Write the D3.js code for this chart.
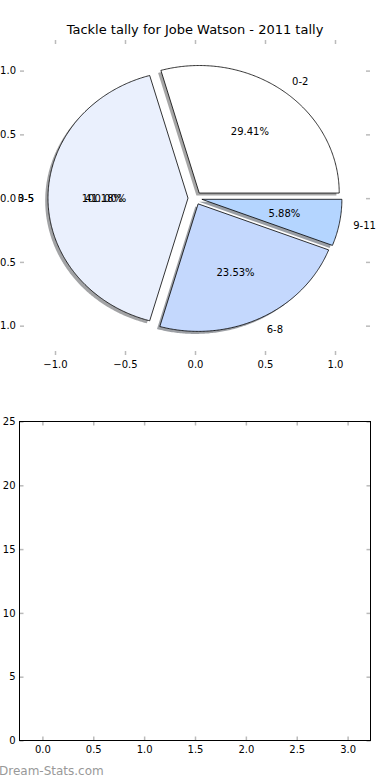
<!DOCTYPE html>
<meta charset="utf-8">
<style>

body {
  margin: 0;
  background: #fff;
  font-family: "DejaVu Sans", sans-serif;
}

.tick line {
  stroke: #bbb;
  stroke-width: 1.5;
}

.tick text {
  font: 10px "DejaVu Sans", sans-serif;
  fill: #000;
}

.wedge {
  stroke: #000;
  stroke-width: 0.8;
}

.plabel {
  font: 10px "DejaVu Sans", sans-serif;
}

</style>
<body>
<script src="https://d3js.org/d3.v7.min.js"></script>
<script>

// pie data
var categories = ["0-2", "3-5", "6-8", "9-11"];
var tackles = [5, 7, 4, 1];
var colours = ["#ffffff", "#eaf0fd", "#c4d8fd", "#b4d5ff"];

// a second single-slice pie drawn over the first (only its texts show)
var overlayCategories = ["0-5"];
var overlayValues = [1];

var pieTicks = [-1.0, -0.5, 0.0, 0.5, 1.0];
var barYTicks = [0, 5, 10, 15, 20, 25];
var barXTicks = [0.0, 0.5, 1.0, 1.5, 2.0, 2.5, 3.0];

var title = "Tackle tally for Jobe Watson - 2011 tally";
var explode = 0.05;

var svg = d3.select("body").append("svg")
    .attr("width", 390)
    .attr("height", 780);

// ---- pie axes ----
var x = d3.scaleLinear().domain([-1.25, 1.25]).range([20, 370]);
var y = d3.scaleLinear().domain([-1.23, 1.24]).range([355, 40]);

var fmt = d3.format(".1f");

svg.append("g")
    .attr("transform", "translate(0,355)")
    .call(d3.axisBottom(x).tickValues(pieTicks).tickFormat(fmt).tickSize(-4).tickPadding(6))
    .call(function(g) { g.select(".domain").remove(); });

svg.append("g")
    .attr("transform", "translate(0,40)")
    .call(d3.axisTop(x).tickValues(pieTicks).tickFormat("").tickSize(-4))
    .call(function(g) { g.select(".domain").remove(); });

svg.append("g")
    .attr("transform", "translate(20,0)")
    .call(d3.axisLeft(y).tickValues(pieTicks).tickFormat(fmt).tickSize(-4).tickPadding(4))
    .call(function(g) { g.select(".domain").remove(); });

svg.append("g")
    .attr("transform", "translate(370,0)")
    .call(d3.axisRight(y).tickValues(pieTicks).tickFormat("").tickSize(-4))
    .call(function(g) { g.select(".domain").remove(); });

svg.append("text")
    .attr("x", 195)
    .attr("y", 34)
    .attr("text-anchor", "middle")
    .style("font", "13px 'DejaVu Sans', sans-serif")
    .text(title);

// angles run counter-clockwise from +x, like matplotlib
var pie = d3.pie().sort(null).startAngle(0).endAngle(2 * Math.PI);

function wedgePoints(d, dx, dy) {
  var mid = (d.startAngle + d.endAngle) / 2,
      cx = explode * Math.cos(mid) + dx,
      cy = explode * Math.sin(mid) + dy,
      pts = [[cx, cy]],
      n = Math.max(2, Math.ceil((d.endAngle - d.startAngle) / 0.01));
  for (var i = 0; i <= n; i++) {
    var a = d.startAngle + (d.endAngle - d.startAngle) * i / n;
    pts.push([cx + Math.cos(a), cy + Math.sin(a)]);
  }
  return pts;
}

var line = d3.line()
    .x(function(p) { return x(p[0]); })
    .y(function(p) { return y(p[1]); })
    .curve(d3.curveLinearClosed);

var arcs = pie(tackles);

svg.selectAll(".shadow")
    .data(arcs)
  .enter().append("path")
    .attr("class", "shadow")
    .attr("d", function(d) { return line(wedgePoints(d, -0.02, -0.02)); })
    .attr("fill", function(d, i) {
      var c = d3.rgb(colours[i]);
      return d3.rgb(c.r * 0.3, c.g * 0.3, c.b * 0.3);
    })
    .attr("stroke", "none")
    .attr("fill-opacity", 0.5);

svg.selectAll(".wedge")
    .data(arcs)
  .enter().append("path")
    .attr("class", "wedge")
    .attr("d", function(d) { return line(wedgePoints(d, 0, 0)); })
    .attr("fill", function(d, i) { return colours[i]; });

var total = d3.sum(tackles);

function addLabels(arcData, names, sum) {
  arcData.forEach(function(d, i) {
    var mid = (d.startAngle + d.endAngle) / 2,
        lx = (explode + 1.1) * Math.cos(mid),
        ly = (explode + 1.1) * Math.sin(mid),
        px = (explode + 0.6) * Math.cos(mid),
        py = (explode + 0.6) * Math.sin(mid);
    svg.append("text")
        .attr("class", "plabel")
        .attr("x", x(lx))
        .attr("y", y(ly))
        .attr("dy", "0.35em")
        .attr("text-anchor", lx > 0 ? "start" : "end")
        .text(names[i]);
    svg.append("text")
        .attr("class", "plabel")
        .attr("x", x(px))
        .attr("y", y(py))
        .attr("dy", "0.35em")
        .attr("text-anchor", "middle")
        .text((100 * d.value / sum).toFixed(2) + "%");
  });
}

addLabels(arcs, categories, total);
addLabels(pie(overlayValues), overlayCategories, d3.sum(overlayValues));

// ---- empty bar axes ----
var bx = d3.scaleLinear().domain([-0.225, 3.225]).range([19.5, 370.5]);
var by = d3.scaleLinear().domain([0, 25]).range([740.5, 421.5]);

svg.append("g")
    .attr("transform", "translate(0,740.5)")
    .call(d3.axisBottom(bx).tickValues(barXTicks).tickFormat(fmt).tickSize(-4).tickPadding(5))
    .call(function(g) { g.select(".domain").remove(); });

svg.append("g")
    .attr("transform", "translate(0,421.5)")
    .call(d3.axisTop(bx).tickValues(barXTicks).tickFormat("").tickSize(-4))
    .call(function(g) { g.select(".domain").remove(); });

svg.append("g")
    .attr("transform", "translate(19.5,0)")
    .call(d3.axisLeft(by).tickValues(barYTicks).tickFormat(d3.format("d")).tickSize(-4).tickPadding(4))
    .call(function(g) { g.select(".domain").remove(); });

svg.append("g")
    .attr("transform", "translate(370.5,0)")
    .call(d3.axisRight(by).tickValues(barYTicks).tickFormat("").tickSize(-4))
    .call(function(g) { g.select(".domain").remove(); });

svg.append("rect")
    .attr("x", 19.5)
    .attr("y", 421.5)
    .attr("width", 351)
    .attr("height", 319)
    .attr("fill", "none")
    .attr("stroke", "#000")
    .attr("stroke-width", 1);

svg.append("text")
    .attr("x", -1)
    .attr("y", 775)
    .style("font", "12px 'DejaVu Sans', sans-serif")
    .attr("fill", "#999")
    .text("Dream-Stats.com");

</script>
